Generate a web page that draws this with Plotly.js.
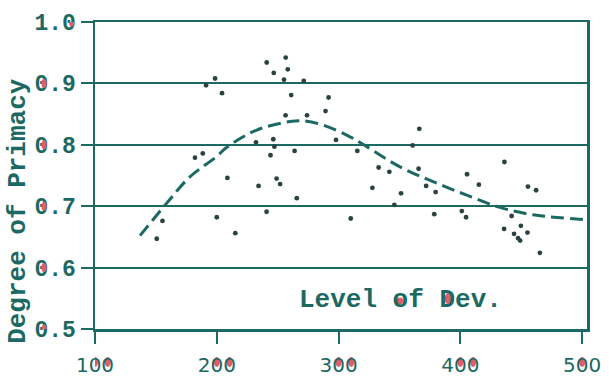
<!DOCTYPE html>
<html>
<head>
<meta charset="utf-8">
<script src="https://cdn.plot.ly/plotly-3.0.1.min.js"></script>
<style>
  html, body { margin: 0; padding: 0; background: #ffffff; }
  #chart { width: 609px; height: 381px; }
</style>
</head>
<body>
<div id="chart"></div>
<script>
// Observed cases: level of development vs. degree of primacy
const devLevel = [
  150.7, 155.4, 182.1, 188.5, 191.2, 198.6, 204.3, 200.0, 208.7, 215.2,
  232.2, 234.3, 241.0, 240.9, 244.1, 246.4, 246.8, 247.3, 249.1, 252.0,
  255.2, 256.5, 256.6, 258.3, 261.1, 263.9, 265.7, 271.4, 274.1, 289.3,
  291.8, 297.9, 310.0, 315.4, 327.8, 332.9, 341.7, 345.8, 351.3, 360.8,
  365.7, 366.3, 371.9, 378.6, 379.7, 401.2, 404.7, 405.5, 415.2, 436.2,
  435.9, 442.1, 444.1, 447.4, 449.1, 449.7, 455.1, 455.5, 462.2, 465.3
];
const primacy = [
  0.647, 0.676, 0.779, 0.786, 0.897, 0.908, 0.884, 0.682, 0.746, 0.656,
  0.804, 0.733, 0.934, 0.691, 0.783, 0.809, 0.917, 0.797, 0.745, 0.736,
  0.906, 0.848, 0.942, 0.923, 0.881, 0.790, 0.713, 0.904, 0.848, 0.855,
  0.877, 0.808, 0.680, 0.790, 0.730, 0.763, 0.756, 0.702, 0.721, 0.799,
  0.761, 0.826, 0.733, 0.687, 0.723, 0.692, 0.682, 0.752, 0.735, 0.772,
  0.663, 0.684, 0.655, 0.648, 0.644, 0.668, 0.657, 0.732, 0.726, 0.624
];

// Fitted trend
const trendLevel = [137.0, 158.9, 178.0, 200.0, 208.2, 232.8, 260.2, 270.8, 287.5,
                    309.4, 323.2, 350.5, 377.6, 405.3, 432.6, 459.8, 503.9];
const trendPrimacy = [0.652, 0.705, 0.748, 0.781, 0.796, 0.824, 0.838, 0.839, 0.832,
                      0.813, 0.797, 0.764, 0.740, 0.718, 0.698, 0.686, 0.678];

const xTicks = [100, 200, 300, 400, 500];
const yTicks = [0.5, 0.6, 0.7, 0.8, 0.9, 1.0];
const yTickText = ['0.5', '0.6', '0.7', '0.8', '0.9', '1.0'];
const devLabel = 'Level of Dev.';

const ink = '#1c6862';
const dotInk = '#2a4241';
const blush = '#e35d68';
const mono = '"Liberation Mono", "DejaVu Sans Mono", monospace';

// Red-tinted counters inside the closed glyphs of the labels
const counters = [];
function counter(layer, xref, yref, xa, ya, dx, dy, w, h) {
  counters.push({
    type: 'circle', layer: layer,
    xref: xref, yref: yref,
    xsizemode: 'pixel', ysizemode: 'pixel',
    xanchor: xa, yanchor: ya,
    x0: dx - w / 2, x1: dx + w / 2,
    y0: dy - h / 2, y1: dy + h / 2,
    fillcolor: blush, line: { width: 0 }
  });
}
const xDigit = 12.7;          // advance of one x tick-label digit
xTicks.forEach(function (v) {
  counter('below', 'x', 'paper', v, 0, 0, -33, 6, 10);
  counter('below', 'x', 'paper', v, 0, xDigit, -33, 6, 10);
});
const yDigit = 13.8;          // advance of one y tick-label character
yTicks.forEach(function (v, i) {
  const pos = yTickText[i].indexOf('0');
  const fromRight = yTickText[i].length - pos - 0.5;
  counter('above', 'paper', 'y', 0, v, -16.5 - fromRight * yDigit, 0, 5, 9);
});
const devX = 350.5, devY = 0.548, devPitch = 15.6;
const devMid = (devLabel.length - 1) / 2;
counter('below', 'x', 'y', devX, devY, (devLabel.indexOf('o') - devMid) * devPitch, -1.5, 6, 7);
counter('below', 'x', 'y', devX, devY, (devLabel.indexOf('D') - devMid) * devPitch + 1, 1, 6, 11);

const traces = [
  {
    x: trendLevel, y: trendPrimacy,
    type: 'scatter', mode: 'lines',
    line: { color: ink, width: 3, dash: '13px,6px', shape: 'spline', smoothing: 1.0 },
    hoverinfo: 'skip'
  },
  {
    x: devLevel, y: primacy,
    type: 'scatter', mode: 'markers',
    marker: { color: dotInk, size: 4.8 }
  }
];

const layout = {
  width: 609, height: 381,
  margin: { l: 95, r: 22, t: 22, b: 52, pad: 0 },
  paper_bgcolor: '#ffffff',
  plot_bgcolor: 'rgba(0,0,0,0)',
  showlegend: false,
  xaxis: {
    range: [100, 504],
    tickvals: xTicks,
    ticks: 'outside', ticklen: 12, tickwidth: 2, tickcolor: ink,
    ticklabelstandoff: 4,
    showline: true, linecolor: ink, linewidth: 2.5, mirror: true,
    showgrid: false, zeroline: false,
    tickfont: { family: '"DejaVu Sans", sans-serif', size: 20, color: ink }
  },
  yaxis: {
    range: [0.5, 1.0],
    tickvals: yTicks, ticktext: yTickText,
    ticks: 'outside', ticklen: 12, tickwidth: 2, tickcolor: ink,
    showline: true, linecolor: ink, linewidth: 2.5, mirror: true,
    showgrid: true, gridcolor: ink, gridwidth: 2,
    zeroline: false,
    tickfont: { family: mono, size: 23, color: ink, weight: 'bold' }
  },
  shapes: counters,
  annotations: [
    {
      text: 'Degree of Primacy',
      xref: 'paper', yref: 'paper',
      x: -0.157, y: 0.384,
      xanchor: 'center', yanchor: 'middle',
      textangle: -90, showarrow: false,
      font: { family: mono, size: 26, color: ink, weight: 'bold' }
    },
    {
      text: devLabel,
      xref: 'x', yref: 'y',
      x: devX, y: devY,
      xanchor: 'center', yanchor: 'middle',
      showarrow: false,
      font: { family: mono, size: 26, color: ink, weight: 'bold' }
    }
  ]
};

Plotly.newPlot('chart', traces, layout, { displayModeBar: false, staticPlot: true });
</script>
</body>
</html>
